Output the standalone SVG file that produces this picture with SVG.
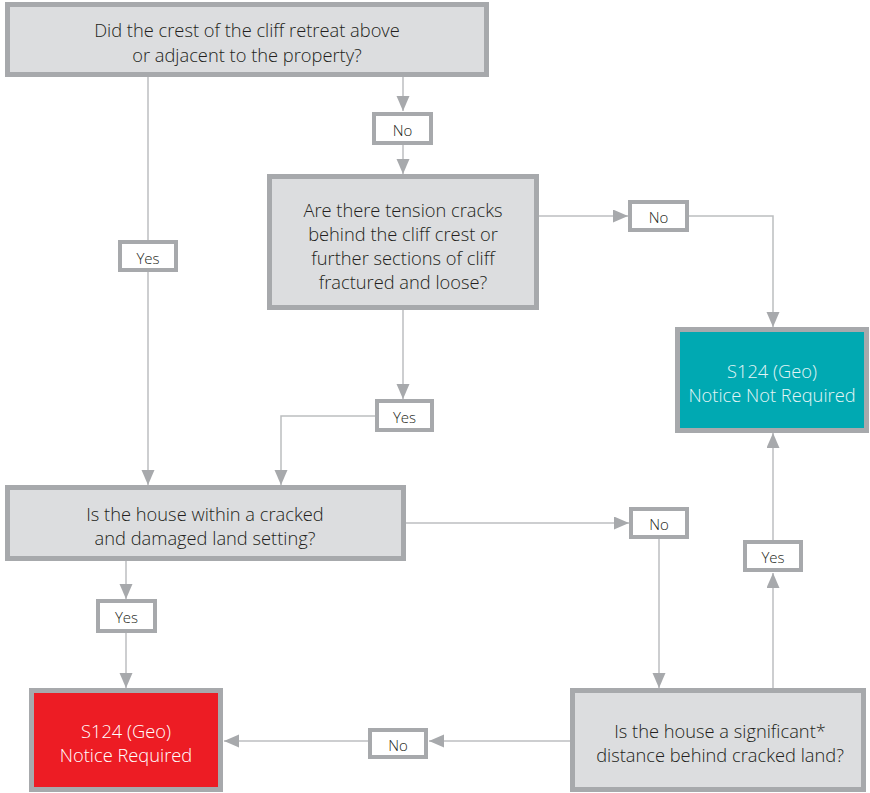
<svg xmlns="http://www.w3.org/2000/svg" width="870" height="793" viewBox="0 0 870 793">
  <defs>
    <marker id="arrow" markerUnits="userSpaceOnUse" markerWidth="16" markerHeight="14" refX="15" refY="6.5" orient="auto">
      <path d="M0 0 L15 6.5 L0 13 Z" fill="#a7a9ac"/>
    </marker>
    <style>
      .q { fill: #dcdddf; stroke: #a7a9ac; stroke-width: 5; }
      .lbl { fill: #ffffff; stroke: #a7a9ac; stroke-width: 4; }
      .edge { fill: none; stroke: #bcbec0; stroke-width: 1.5; }
      .arr { marker-end: url(#arrow); }
      text { font-family: "Open Sans", "Noto Sans", "Liberation Sans", sans-serif; font-weight: 300; text-anchor: middle; }
      .qt { font-size: 18.3px; fill: #231f20; }
      .lt { font-size: 15px; fill: #231f20; }
      .wt { font-size: 18.3px; fill: #ffffff; }
      .tt { font-size: 18.3px; fill: #e3f5f6; }
    </style>
  </defs>
  <rect width="870" height="793" fill="#ffffff"/>

  <!-- connectors -->
  <g id="connectors">
    <path class="edge arr" d="M403 77 V111"/>
    <path class="edge arr" d="M403 145 V174"/>
    <path class="edge arr" d="M539 216 H628"/>
    <path class="edge arr" d="M689 216 H773 V327"/>
    <path class="edge" d="M148 77 V240"/>
    <path class="edge arr" d="M148 272 V485"/>
    <path class="edge arr" d="M403 310 V399"/>
    <path class="edge arr" d="M375 416 H281 V485"/>
    <path class="edge arr" d="M406 523 H629"/>
    <path class="edge arr" d="M659 539 V688"/>
    <path class="edge arr" d="M773 688 V573"/>
    <path class="edge arr" d="M773 540 V433"/>
    <path class="edge arr" d="M126 561 V599"/>
    <path class="edge arr" d="M126 633 V688"/>
    <path class="edge arr" d="M570 741 H429"/>
    <path class="edge arr" d="M368 741 H224"/>

    <!-- branch labels -->
    <g id="lbl-no-1"><rect class="lbl" x="374" y="114" width="57" height="29"/><text class="lt" x="402.5" y="136">No</text></g>
    <g id="lbl-yes-1"><rect class="lbl" x="120" y="242" width="56" height="28"/><text class="lt" x="148" y="263.5">Yes</text></g>
    <g id="lbl-no-2"><rect class="lbl" x="630" y="202" width="57" height="28"/><text class="lt" x="658.5" y="223">No</text></g>
    <g id="lbl-yes-2"><rect class="lbl" x="377" y="401" width="55" height="29"/><text class="lt" x="404.5" y="423">Yes</text></g>
    <g id="lbl-no-3"><rect class="lbl" x="631" y="509" width="56" height="28"/><text class="lt" x="659" y="530">No</text></g>
    <g id="lbl-yes-4"><rect class="lbl" x="745" y="542" width="56" height="28"/><text class="lt" x="773" y="563">Yes</text></g>
    <g id="lbl-yes-3"><rect class="lbl" x="98" y="601" width="57" height="30"/><text class="lt" x="126.5" y="623">Yes</text></g>
    <g id="lbl-no-5"><rect class="lbl" x="370" y="730" width="56" height="27"/><text class="lt" x="398" y="750.5">No</text></g>
  </g>

  <!-- decision nodes -->
  <g id="q-crest">
    <rect class="q" x="7.5" y="4.5" width="479" height="70"/>
    <text class="qt" x="247" y="37">Did the crest of the cliff retreat above</text>
    <text class="qt" x="247" y="62">or adjacent to the property?</text>
  </g>
  <g id="q-tension">
    <rect class="q" x="269.5" y="176.5" width="267" height="131"/>
    <text class="qt" x="403" y="217">Are there tension cracks</text>
    <text class="qt" x="403" y="241">behind the cliff crest or</text>
    <text class="qt" x="403" y="265">further sections of cliff</text>
    <text class="qt" x="403" y="289">fractured and loose?</text>
  </g>
  <g id="q-setting">
    <rect class="q" x="7.5" y="487.5" width="396" height="71"/>
    <text class="qt" x="205" y="521">Is the house within a cracked</text>
    <text class="qt" x="205" y="545">and damaged land setting?</text>
  </g>
  <g id="q-distance">
    <rect class="q" x="572.5" y="690.5" width="291" height="99"/>
    <text class="qt" x="720" y="738">Is the house a significant*</text>
    <text class="qt" x="720" y="762">distance behind cracked land?</text>
  </g>

  <!-- outcomes -->
  <g id="notice-required">
    <rect x="31.5" y="690.5" width="189" height="99" fill="#ed1c24" stroke="#a7a9ac" stroke-width="5"/>
    <text class="wt" x="126" y="738">S124 (Geo)</text>
    <text class="wt" x="126" y="762">Notice Required</text>
  </g>
  <g id="notice-not-required">
    <rect x="677.5" y="329.5" width="189" height="101" fill="#00a9b2" stroke="#a7a9ac" stroke-width="5"/>
    <text class="tt" x="772" y="378">S124 (Geo)</text>
    <text class="tt" x="772" y="402">Notice Not Required</text>
  </g>
</svg>
